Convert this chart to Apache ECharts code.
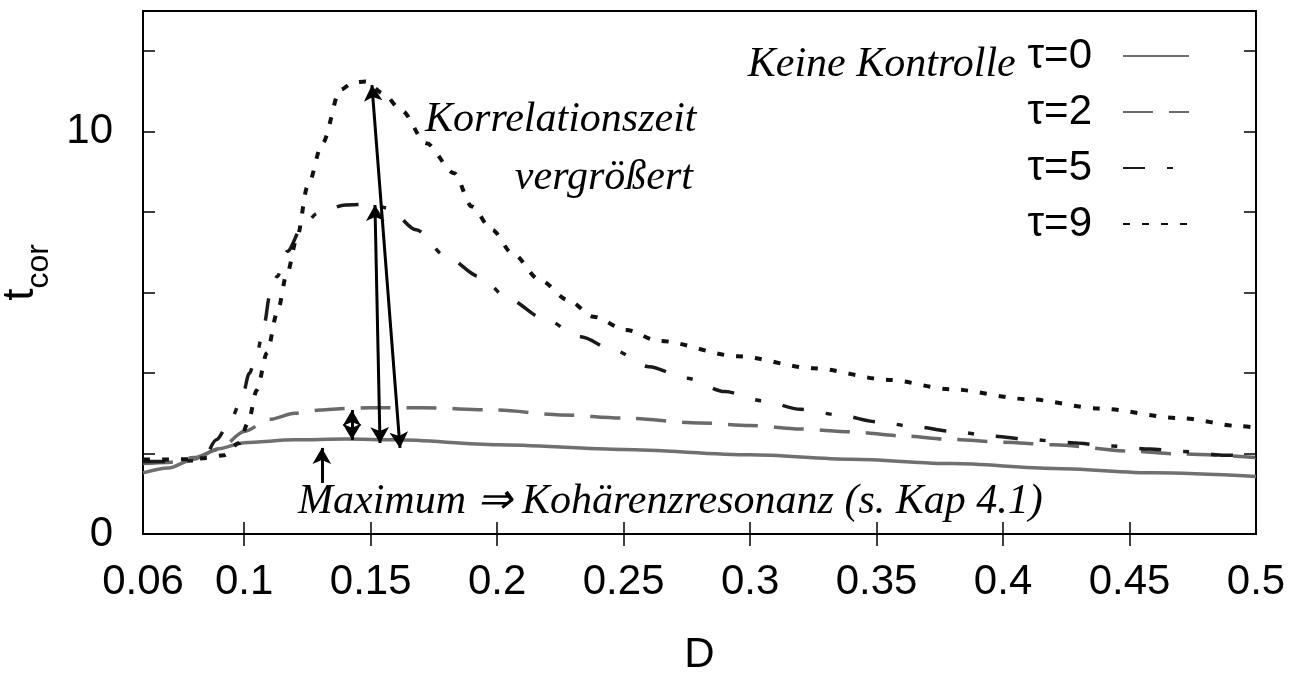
<!DOCTYPE html>
<html>
<head>
<meta charset="utf-8">
<script src="https://cdn.jsdelivr.net/npm/echarts@6/dist/echarts.min.js"></script>
<style>
  html, body { margin: 0; padding: 0; background: #fff; }
  #main { width: 1307px; height: 673px; }
</style>
</head>
<body>
<div id="main"></div>
<script>
// values
const seriesNames = ['τ=0', 'τ=2', 'τ=5', 'τ=9'];

const tau0 = [
  [0.06, 1.52], [0.07, 1.64], [0.08, 1.86], [0.09, 2.12], [0.1, 2.27], [0.12, 2.34],
  [0.14, 2.36], [0.16, 2.34], [0.2, 2.22], [0.25, 2.1], [0.3, 1.97], [0.34, 1.86],
  [0.38, 1.75], [0.42, 1.63], [0.46, 1.52], [0.5, 1.43]
];
const tau2 = [
  [0.06, 1.75], [0.07, 1.78], [0.08, 1.9], [0.09, 2.1], [0.1, 2.55], [0.11, 2.85],
  [0.12, 3.0], [0.13, 3.08], [0.14, 3.12], [0.15, 3.14], [0.17, 3.14], [0.2, 3.08],
  [0.225, 2.96], [0.25, 2.88], [0.28, 2.76], [0.3, 2.7], [0.32, 2.61], [0.34, 2.54],
  [0.36, 2.44], [0.38, 2.35], [0.4, 2.28], [0.42, 2.22], [0.45, 2.06], [0.47, 1.99],
  [0.5, 1.9]
];
const tau5 = [
  [0.06, 1.8], [0.07, 1.8], [0.08, 1.82], [0.084, 1.89], [0.089, 2.34], [0.094, 2.75],
  [0.099, 3.33], [0.102, 3.99], [0.105, 4.49], [0.108, 5.24], [0.11, 5.9], [0.113, 6.4],
  [0.117, 7.02], [0.123, 7.64], [0.129, 7.97], [0.14, 8.18], [0.15, 8.2], [0.157, 8.1],
  [0.168, 7.56], [0.18, 6.89], [0.193, 6.4], [0.205, 5.82], [0.218, 5.37], [0.233, 4.9],
  [0.246, 4.57], [0.26, 4.16], [0.275, 3.87], [0.29, 3.54], [0.305, 3.31], [0.32, 3.1],
  [0.335, 2.96], [0.35, 2.79], [0.365, 2.67], [0.38, 2.55], [0.396, 2.43], [0.41, 2.35],
  [0.427, 2.27], [0.442, 2.19], [0.458, 2.11], [0.471, 2.05], [0.488, 1.96], [0.5, 1.93]
];
const tau9 = [
  [0.06, 1.85], [0.07, 1.85], [0.08, 1.86], [0.085, 1.89], [0.092, 1.96], [0.098, 2.26],
  [0.1015, 2.76], [0.105, 3.58], [0.109, 4.5], [0.113, 5.49], [0.117, 6.49], [0.121, 7.39],
  [0.125, 8.63], [0.131, 9.72], [0.138, 11.04], [0.143, 11.22], [0.148, 11.25],
  [0.155, 10.95], [0.162, 10.54], [0.172, 9.71], [0.183, 8.97], [0.19, 8.14], [0.198, 7.56],
  [0.206, 6.98], [0.217, 6.31], [0.228, 5.82], [0.238, 5.4], [0.251, 5.07], [0.264, 4.8],
  [0.295, 4.42], [0.325, 4.12], [0.355, 3.83], [0.379, 3.6], [0.41, 3.35], [0.438, 3.12],
  [0.47, 2.88], [0.494, 2.68], [0.5, 2.64]
];

const xLabelValues = [0.06, 0.1, 0.15, 0.2, 0.25, 0.3, 0.35, 0.4, 0.45, 0.5];
const xTickValues = [0.1, 0.15, 0.2, 0.25, 0.3, 0.35, 0.4, 0.45];
const yLabelValues = [0, 10];
const yTickValues = [2, 4, 6, 8, 10, 12];

// handwritten notes: [text, D, t_cor, align]
const notes = [
  ['Keine Kontrolle', 0.405, 11.65, 'right'],
  ['Korrelationszeit', 0.1715, 10.29, 'left'],
  ['vergrößert', 0.207, 8.85, 'left'],
  ['Maximum ⇒ Kohärenzresonanz (s. Kap 4.1)', 0.1213, 0.8, 'left']
];
// hand-drawn arrows: [from, to, heads]
const arrows = [
  [[0.1616, 2.14], [0.1505, 11.16], 'both'],
  [[0.1537, 2.26], [0.1517, 8.18], 'both'],
  [[0.1426, 3.08], [0.1426, 2.34], 'both'],
  [[0.1307, 1.27], [0.1307, 2.14], 'end']
];

const font = 'Liberation Sans';
const chart = echarts.init(document.getElementById('main'));

const tickStyle = { show: true, inside: true, length: 12, lineStyle: { color: '#000', width: 1.5 } };

const option = {
  animation: false,
  textStyle: { fontFamily: font },
  grid: {
    left: 143, right: 51, top: 11, bottom: 139,
    outerBoundsMode: 'none',
    show: true, borderColor: '#000', borderWidth: 2
  },
  legend: {
    orient: 'vertical',
    right: 112,
    top: 30,
    align: 'right',
    itemWidth: 66,
    itemHeight: 14,
    itemGap: 14,
    itemStyle: { opacity: 0 },
    textStyle: { fontFamily: font, fontSize: 42, color: '#000', padding: [0, 26, 0, 0] },
    data: seriesNames
  },
  xAxis: [
    {
      type: 'value', min: 0.06, max: 0.5,
      name: 'D', nameLocation: 'middle', nameGap: 100,
      nameTextStyle: { fontFamily: font, fontSize: 42, color: '#000' },
      axisLine: { show: false },
      splitLine: { show: false },
      axisTick: Object.assign({ customValues: xTickValues }, tickStyle),
      axisLabel: {
        customValues: xLabelValues, margin: 27,
        fontFamily: font, fontSize: 42, color: '#000',
        formatter: (v) => String(Math.round(v * 100) / 100)
      }
    },
    {
      type: 'value', min: 0.06, max: 0.5, position: 'top',
      axisLine: { show: false }, splitLine: { show: false },
      axisTick: Object.assign({ customValues: xTickValues }, tickStyle),
      axisLabel: { show: false }
    }
  ],
  yAxis: [
    {
      type: 'value', min: 0, max: 13,
      name: '{t|t}{s|cor}', nameLocation: 'middle', nameGap: 88, nameRotate: 90,
      nameTextStyle: {
        fontFamily: font, color: '#000',
        rich: {
          t: { fontFamily: font, fontSize: 44, color: '#000', verticalAlign: 'bottom', padding: [0, 0, 12, 0] },
          s: { fontFamily: font, fontSize: 32, color: '#000', verticalAlign: 'bottom' }
        }
      },
      axisLine: { show: false },
      splitLine: { show: false },
      axisTick: Object.assign({ customValues: yTickValues }, tickStyle),
      axisLabel: {
        customValues: yLabelValues, margin: 30,
        fontFamily: font, fontSize: 42, color: '#000'
      }
    },
    {
      type: 'value', min: 0, max: 13, position: 'right',
      axisLine: { show: false }, splitLine: { show: false },
      axisTick: Object.assign({ customValues: yTickValues }, tickStyle),
      axisLabel: { show: false }
    }
  ],
  series: [
    {
      name: seriesNames[0], type: 'line', data: tau0, showSymbol: false, symbol: 'none',
      smooth: 0.3, smoothMonotone: 'x',
      lineStyle: { color: '#707070', width: 3.5, type: 'solid' },
      itemStyle: { color: '#707070' },
      markLine: {
        silent: true, symbolSize: [14, 16], label: { show: false },
        lineStyle: { color: '#000', width: 3, type: 'solid' },
        data: arrows.map((a) => [
          { coord: a[0], symbol: a[2] === 'both' ? 'arrow' : 'none' },
          { coord: a[1], symbol: 'arrow' }
        ])
      }
    },
    {
      name: seriesNames[1], type: 'line', data: tau2, showSymbol: false, symbol: 'none',
      smooth: 0.3, smoothMonotone: 'x',
      lineStyle: { color: '#6a6a6a', width: 3.5, type: [30, 16] },
      itemStyle: { color: '#6a6a6a' }
    },
    {
      name: seriesNames[2], type: 'line', data: tau5, showSymbol: false, symbol: 'none',
      smooth: 0.3, smoothMonotone: 'x',
      lineStyle: { color: '#1a1a1a', width: 3.5, type: [22, 22, 6, 22] },
      itemStyle: { color: '#1a1a1a' }
    },
    {
      name: seriesNames[3], type: 'line', data: tau9, showSymbol: false, symbol: 'none',
      smooth: 0.3, smoothMonotone: 'x',
      lineStyle: { color: '#111111', width: 4, type: [7, 12] },
      itemStyle: { color: '#111111' }
    }
  ]
};

chart.setOption(option);

// place the handwritten notes through the axes' scales
chart.setOption({
  graphic: notes.map((n) => {
    const p = chart.convertToPixel({ gridIndex: 0 }, [n[1], n[2]]);
    return {
      type: 'text', x: p[0], y: p[1], silent: true,
      style: {
        text: n[0], fill: '#000', align: n[3], verticalAlign: 'middle',
        font: 'italic 42px "Liberation Serif"'
      }
    };
  })
});
</script>
</body>
</html>
